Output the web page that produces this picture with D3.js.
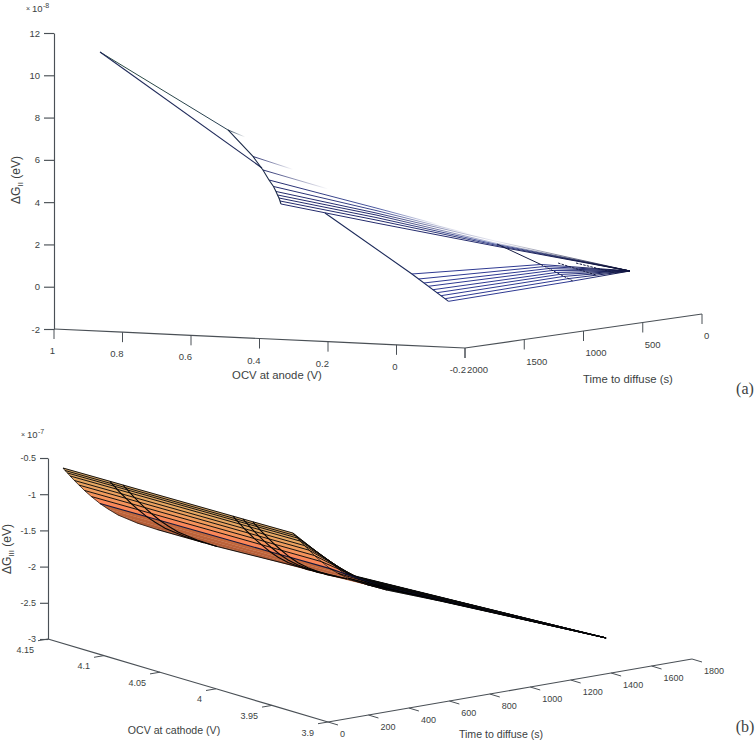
<!DOCTYPE html>
<html><head><meta charset="utf-8">
<script src="https://cdn.jsdelivr.net/npm/d3@7/dist/d3.min.js"></script>
<style>html,body{margin:0;padding:0;background:#fff}svg{display:block}text{font-family:"Liberation Sans",Arial,sans-serif;fill:#3c3f42}</style>
</head><body><svg id="c" width="756" height="742"></svg>
<script>
// ---------- panel (a) data ----------
const anodeOcvTicks = [1,0.8,0.6,0.4,0.2,0,-0.2];
const anodeTimeTicks = [2000,1500,1000,500,0];
const anodeDGTicks = [-2,0,2,4,6,8,10,12];
const upperTime = [2000,1789,1705,1654,1616,1595,1582,1570,1561,1553];
const upperOcv = [[0.8657,0.492,0.4423],[0.492,0.3752],[0.492,0.302],[0.492,0.1796,-0.0073],[0.492,0.1927,-0.0818],[0.492,0.2,-0.1474],[0.492,0.2044,-0.143],[0.492,0.2088,-0.1387],[0.492,0.2117,-0.1358],[0.492,0.2146,-0.1328]];
const upperDG = [[11.2,7.794,7.5],[6.371,5.843],[5.665,4.908],[5.15,4.06,3.395],[4.813,3.901,2.995],[4.559,3.761,2.696],[4.383,3.652,2.587],[4.231,3.521,2.527],[4.082,3.393,2.471],[3.934,3.243,2.415]];
const upperShade = [[-1,-0.6,1],[0,1],[0,1],[0,0.55,1],[0,0.35,1],[0,0.1,0.95],[0,0,0.85],[0,0,0.6],[0,0,0.3],[0,0,0]];
const tipA = {ocv:-0.2, time:608, dG:0.523};
const ridgeOcv = [0.965,0.492]; const ridgeTime = 1713; const ridgeDG = [10.9,5.765];
const lowerTime = [819,763,718,681,642,608,574,540,510];
const lowerEdgeOcv = 0.3635;
const lowerEdgeDG = [0.129,-0.153,-0.378,-0.564,-0.757,-0.926,-1.095,-1.264,-1.412];
const kinkOcv = -0.013;
const kinkTime = [819,785,751,726,692,667,633,591,549];
const kinkDG = [0.86,0.738,0.616,0.501,0.379,0.264,0.143,0.005,-0.138];
const frontColTime = [1553,819,510]; const frontColDG = [3.605,0.129,-1.412];
const backCols = [
  {ocv:-0.013, time:[1190,819,549], dG:[2.128,0.86,-0.138]},
  {ocv:-0.06,  time:[810,489],      dG:[0.958,0.132]},
  {ocv:-0.11,  time:[803,466],      dG:[0.99,0.247]}
];
// ---------- panel (b) data ----------
const cathodeOcvTicks = [4.15,4.1,4.05,4,3.95,3.9];
const cathodeTimeTicks = [0,200,400,600,800,1000,1200,1400,1600,1800];
const cathodeDGTicks = [-3,-2.5,-2,-1.5,-1,-0.5];
const sheetOcv = [4.1366,4.0946,4.083,3.9848,3.9759,3.967,3.9312];
const sheetTime = [0,10,22,35,56,79,106,140,183,223,272,366,465];
const sheetDG = [
 [-0.577,-0.568,-0.566,-0.546,-0.544,-0.542,-0.534],
 [-0.616,-0.607,-0.605,-0.585,-0.583,-0.581,-0.573],
 [-0.656,-0.647,-0.645,-0.625,-0.623,-0.621,-0.613],
 [-0.704,-0.695,-0.693,-0.673,-0.671,-0.669,-0.661],
 [-0.776,-0.767,-0.765,-0.745,-0.743,-0.741,-0.733],
 [-0.851,-0.842,-0.84,-0.82,-0.818,-0.816,-0.808],
 [-0.938,-0.929,-0.927,-0.907,-0.905,-0.903,-0.895],
 [-1.038,-1.029,-1.027,-1.007,-1.005,-1.003,-0.995],
 [-1.156,-1.147,-1.145,-1.125,-1.123,-1.121,-1.113],
 [-1.251,-1.242,-1.24,-1.22,-1.218,-1.216,-1.198],
 [-1.357,-1.348,-1.346,-1.316,-1.312,-1.308,-1.287],
 [-1.513,-1.504,-1.502,-1.46,-1.455,-1.45,-1.423],
 [-1.651,-1.642,-1.64,-1.57,-1.562,-1.555,-1.546]];
const foldOcv = 3.9;
const foldTime = [84,94,106,119,141,163,191,225,267,307,356,450,549];
const foldDG = [-0.996,-1.001,-1.021,-1.041,-1.078,-1.113,-1.155,-1.204,-1.262,-1.311,-1.37,-1.477,-1.591];
const tipB = {ocv:3.9, time:1375, dG:-2.504};

// ---------- drawing ----------
const svg = d3.select("#c");
const defs = svg.append("defs");
const line = d3.line();

function projector(oX,oY,tX,tY,zY){ return (x,t,z)=>[oX(x)+tX(t), zY(z)+oY(x)+tY(t)]; }
const aOX=d3.scaleLinear().domain([1,-0.2]).range([54,465]), aOY=d3.scaleLinear().domain([1,-0.2]).range([0,19]);
const aTX=d3.scaleLinear().domain([2000,0]).range([0,237]), aTY=d3.scaleLinear().domain([2000,0]).range([0,-34]);
const aZ=d3.scaleLinear().domain([-2,12]).range([329,33]);
const pa=projector(aOX,aOY,aTX,aTY,aZ);
const bOX=d3.scaleLinear().domain([4.15,3.9]).range([48,328]), bOY=d3.scaleLinear().domain([4.15,3.9]).range([0,83]);
const bTX=d3.scaleLinear().domain([0,1800]).range([0,364]), bTY=d3.scaleLinear().domain([0,1800]).range([0,-63]);
const bZ=d3.scaleLinear().domain([-3,-0.5]).range([639,458]);
const pb=projector(bOX,bOY,bTX,bTY,bZ);

const axisColor="#4a5056";
function skewAxis(g,ticks,pos,dx,dy,lx,ly,anchor,size){
  g.append("path").attr("d",line(ticks.map(pos))).attr("fill","none").attr("stroke",axisColor).attr("stroke-width",1.15);
  ticks.forEach(v=>{
    const p=pos(v);
    g.append("line").attr("x1",p[0]).attr("y1",p[1]).attr("x2",p[0]+dx).attr("y2",p[1]+dy).attr("stroke",axisColor).attr("stroke-width",1);
    g.append("text").attr("x",p[0]+lx).attr("y",p[1]+ly).attr("text-anchor",anchor).attr("font-size",size).text(String(v));
  });
}
function zAxis(g,scale,x,ticks,size,fs,pad){
  const ax=d3.axisLeft(scale).tickValues(ticks).tickSize(size).tickSizeOuter(0).tickPadding(pad).tickFormat(d=>String(d));
  const gg=g.append("g").attr("transform",`translate(${x},0)`).call(ax);
  gg.selectAll("path,line").attr("stroke",axisColor).attr("stroke-width",1.15);
  gg.selectAll("text").attr("font-size",fs).attr("fill","#3c3f42").style("font-family",'"Liberation Sans"');
}
function multiplier(g,x,y,exp){
  g.append("text").attr("x",x).attr("y",y).attr("font-size",7).attr("fill","#777").text("\u00d7");
  g.append("text").attr("x",x+6).attr("y",y+1).attr("font-size",9.5).text("10");
  g.append("text").attr("x",x+17).attr("y",y-3).attr("font-size",7).text(exp);
}
function yLabel(g,x,y,sub){
  const t=g.append("text").attr("transform",`translate(${x},${y}) rotate(-90)`).attr("text-anchor","middle").attr("font-size",12);
  t.append("tspan").text("\u0394G");
  t.append("tspan").attr("font-size",8).attr("dy",3).text(sub);
  t.append("tspan").attr("dy",-3).text(" (eV)");
}
function label(g,x,y,txt,fs){ g.append("text").attr("x",x).attr("y",y).attr("text-anchor","middle").attr("font-size",fs).text(txt); }
function tag(x,y,txt){ svg.append("text").attr("x",x).attr("y",y).attr("text-anchor","middle").attr("font-size",16).attr("fill","#111").style("font-family",'"Liberation Serif"').text(txt); }

// ===== panel (a) =====
const gA=svg.append("g");
zAxis(gA,aZ,54,anodeDGTicks,10,9.5,4);
skewAxis(gA,anodeOcvTicks,v=>pa(v,2000,-2),0,10,1,25,"end",9.5);
skewAxis(gA,anodeTimeTicks,v=>pa(-0.2,v,-2),0,10,2,25,"start",9.5);
multiplier(gA,26,11,"-8");
yLabel(gA,20,180,"II");
label(gA,277,379,"OCV at anode (V)",11.3);
label(gA,628,383,"Time to diffuse (s)",11.3);
tag(745,394,"(a)");

const shade=d3.scaleLinear().domain([-1,0,0.55,1]).range(["#2c4d40","#232a6c","#4a58a0","#ffffff"]);
let gid=0;
function gradSeg(g,p0,p1,c0,c1,w){
  const id="g"+(gid++);
  const lg=defs.append("linearGradient").attr("id",id).attr("gradientUnits","userSpaceOnUse")
    .attr("x1",p0[0]).attr("y1",p0[1]).attr("x2",p1[0]).attr("y2",p1[1]);
  lg.append("stop").attr("offset",0).attr("stop-color",c0);
  lg.append("stop").attr("offset",1).attr("stop-color",c1);
  g.append("path").attr("d",line([p0,p1])).attr("fill","none").attr("stroke",`url(#${id})`).attr("stroke-width",w);
}
const apexA=pa(tipA.ocv,tipA.time,tipA.dG);
upperTime.forEach((t,i)=>{
  const pts=upperOcv[i].map((x,j)=>pa(x,t,upperDG[i][j]));
  pts.forEach((p,j)=>{ if(j) gradSeg(gA,pts[j-1],p,shade(upperShade[i][j-1]),shade(upperShade[i][j]),1); });
  if(i>=5) gradSeg(gA,pts[pts.length-1],apexA,shade(upperShade[i][upperShade[i].length-1]),"#0e1236",1);
});
const stroke=(g,pts,c,w,dash)=>g.append("path").attr("d",line(pts)).attr("fill","none").attr("stroke",c).attr("stroke-width",w).attr("stroke-dasharray",dash||null);
stroke(gA,ridgeOcv.map((x,j)=>pa(x,ridgeTime,ridgeDG[j])),"#1f2a5a",1.1);
stroke(gA,upperTime.map((t,i)=>pa(upperOcv[i][i?0:1],t,upperDG[i][i?0:1])),"#1c2a48",1.1);
stroke(gA,frontColTime.map((t,j)=>pa(lowerEdgeOcv,t,frontColDG[j])),"#1c2a5a",1.1);
lowerTime.forEach((t,i)=>{
  const k=pa(kinkOcv,kinkTime[i],kinkDG[i]);
  stroke(gA,[pa(lowerEdgeOcv,t,lowerEdgeDG[i]),k],"#2f3a92",1);
  gradSeg(gA,k,apexA,"#2f3a92","#10143c",1);
});
backCols.forEach(c=>{
  const pts=c.time.map((t,j)=>pa(c.ocv,t,c.dG[j]));
  if(pts.length>2){ stroke(gA,pts.slice(0,2),"#161c44",1); stroke(gA,pts.slice(1),"#161c44",1,"2.5 1.2"); }
  else stroke(gA,pts,"#161c44",1,"2.5 1.2");
});

// ===== panel (b) =====
const gB=svg.append("g");
zAxis(gB,bZ,48,cathodeDGTicks,8,9,4);
skewAxis(gB,cathodeOcvTicks,v=>pb(v,0,-3),-10,1.7,-14,13.5,"end",9);
skewAxis(gB,cathodeTimeTicks,v=>pb(3.9,v,-3),10,3,12,15,"start",9);
multiplier(gB,21,437,"-7");
yLabel(gB,11,549,"III");
label(gB,174,734,"OCV at cathode (V)",10.6);
label(gB,501,738,"Time to diffuse (s)",10.6);
tag(745,732,"(b)");

const fill=d3.scaleLinear().domain([0,40,100,153,183,200,272,465]).range(["#dcaa68","#e6a964","#f29a5c","#f98a5a","#fd8058","#c4683c","#b8603a","#a7552f"]);
const nR=sheetTime.length,nC=sheetOcv.length;
const ridgeRow=sheetTime.indexOf(183);
const vert=(r,c)=>c<nC?pb(sheetOcv[c],sheetTime[r],sheetDG[r][c]):pb(foldOcv,foldTime[r],foldDG[r]);
const tipPt=pb(tipB.ocv,tipB.time,tipB.dG);
for(let r=0;r<nR-1;r++){
  const col=fill((sheetTime[r]+sheetTime[r+1])/2);
  for(let c=0;c<nC;c++){
    const f=(c==nC-1&&r>=nR-3)?"#000":col;
    gB.append("path").attr("d",line([vert(r,c),vert(r,c+1),vert(r+1,c+1),vert(r+1,c)])+"Z").attr("fill",f).attr("stroke",f).attr("stroke-width",0.3);
  }
}
gB.append("path").attr("d",line(d3.range(nR).map(r=>vert(r,nC)).concat([tipPt]))+"Z").attr("fill","#000").attr("stroke","#000").attr("stroke-width",0.4);
const rowsPts=r=>d3.range(nC+1).map(c=>vert(r,c)).concat([tipPt]);
for(let r=0;r<nR;r++){
  const pts=rowsPts(r);
  if(r>ridgeRow&&r<nR-1) stroke(gB,pts.slice(nC-1),"#000",0.9);
  else stroke(gB,pts,r==ridgeRow?"#10143a":"#0a0a0a",r==ridgeRow?1.1:0.95);
}
for(let c=0;c<nC;c++){
  stroke(gB,d3.range(nR).map(r=>vert(r,c)),"#050505",c==0||c==nC-1?0.7:1.1);
}
</script></body></html>
